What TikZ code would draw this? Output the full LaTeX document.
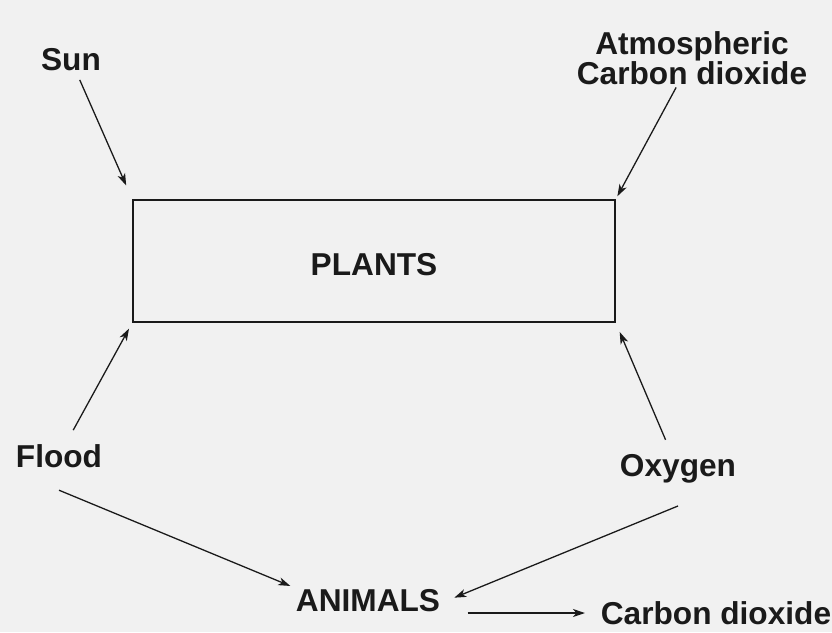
\documentclass[tikz,border=0pt]{standalone}
\usepackage{fontspec}
\setmainfont{Liberation Sans}
\usepackage{tikz}
\usetikzlibrary{arrows.meta,positioning}
\definecolor{Ink}{HTML}{1A1A1A}
\definecolor{Paper}{HTML}{F1F1F1}

\begin{document}
\begin{tikzpicture}[x=0.03cm, y=-0.03cm,
  label/.style={font=\fontsize{27}{26}\selectfont\bfseries, text=Ink, align=center, inner sep=2pt},
  box/.style={draw=Ink, line width=1.3pt, minimum width=14.46cm, minimum height=3.66cm},
  rel/.style={-{Stealth[length=3.6mm, width=2.4mm, inset=1mm]}, line width=1.1pt, draw=Ink}
]
  \fill[Paper] (0,0) rectangle (832,632);
  \useasboundingbox (0,0) rectangle (832,632);

  \node[box] (plants) at (374,261) {};
  \node[label] (plantstext) at (374,265) {PLANTS};
  \node[label] (sun) at (71,60) {Sun};
  \node[label] (atmco) at (692,58) {Atmospheric\\Carbon dioxide};
  \node[label] (flood) at (59,456) {Flood};
  \node[label] (oxygen) at (678,469) {Oxygen};
  \node[label] (animals) at (368,601) {ANIMALS};
  \node[label] (cotwo) at (716,613) {Carbon dioxide};

  \draw[rel, shorten <=2mm, shorten >=4.5mm] (sun) -- (plants.north west);
  \draw[rel, shorten >=1mm] (atmco) -- (plants.north east);
  \draw[rel, shorten <=4mm, shorten >=2mm] (flood) -- (plants.south west);
  \draw[rel, shorten <=4mm, shorten >=3mm] (oxygen) -- (plants.south east);
  \draw[rel, shorten >=1mm] ([yshift=-6mm]flood.south) -- (animals.north west);
  \draw[rel] ([yshift=-6mm]oxygen.south) -- ([shift={(3.5mm,1mm)}]animals.east);
  \draw[rel, shorten <=7.5mm, shorten >=4mm] (animals.east |- cotwo.west) -- (cotwo.west);
\end{tikzpicture}
\end{document}
